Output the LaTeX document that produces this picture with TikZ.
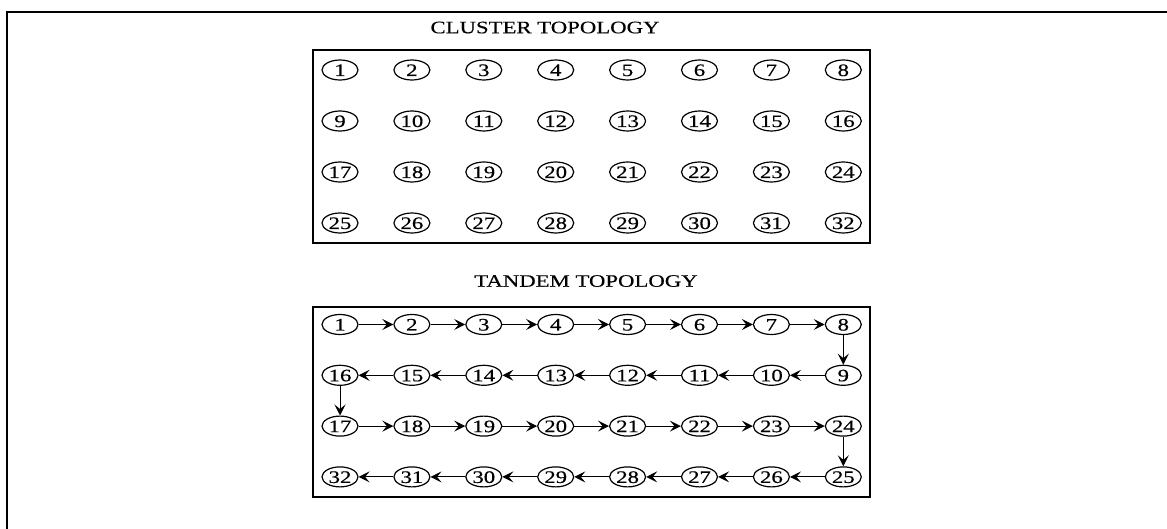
\documentclass[tikz,border=0pt]{standalone}
\usepackage{fontspec}
\setmainfont{Liberation Serif}[FakeStretch=1.3,FakeBold=0.4]
\usetikzlibrary{shapes.geometric,arrows.meta}
\begin{document}
\begin{tikzpicture}[x=1pt,y=-1pt,
  station/.style={ellipse,draw,line width=1.2pt,minimum width=36pt,minimum height=20pt,
    inner sep=0pt,font=\fontsize{17.5}{17.5}\selectfont,text height=12pt,text depth=0pt},
  arr/.style={line width=1pt,-{Stealth[length=11pt,width=11pt,inset=4.5pt]}},
  frame/.style={line width=1.5pt},
  heading/.style={font=\fontsize{17.5}{17.5}\selectfont,inner sep=0pt,text height=11.5pt,text depth=0pt}]
\useasboundingbox (0,0) rectangle (1167,529);

% outer frame
\draw[line width=2pt] (7,529) -- (7,12) -- (1167,12);

% cluster topology
\node[heading] (ctitle) at (545,27.5) {CLUSTER TOPOLOGY};
\draw[frame] (313,50) rectangle (870,243);
\foreach \i in {1,...,32}{
  \pgfmathtruncatemacro{\c}{mod(\i-1,8)}
  \pgfmathtruncatemacro{\r}{(\i-1)/8}
  \node[station] (c\i) at ({340+71.9*\c},{70+51*\r}) {\i};
}

% tandem topology
\node[heading] (ttitle) at (586,281) {TANDEM TOPOLOGY};
\draw[frame] (313,307) rectangle (870,497);
\foreach \i in {1,...,32}{
  \pgfmathtruncatemacro{\r}{(\i-1)/8}
  \pgfmathtruncatemacro{\k}{mod(\i-1,8)}
  \pgfmathtruncatemacro{\c}{mod(\r,2)==0 ? \k : 7-\k}
  \node[station] (t\i) at ({340+71.9*\c},{324.5+50.8*\r}) {\i};
}
\foreach \i in {1,...,31}{
  \pgfmathtruncatemacro{\j}{\i+1}
  \draw[arr] (t\i) -- (t\j);
}
\end{tikzpicture}
\end{document}
